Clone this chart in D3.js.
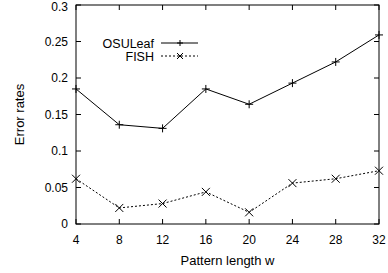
<!DOCTYPE html>
<html>
<head>
<meta charset="utf-8">
<script src="https://cdn.jsdelivr.net/npm/d3@7"></script>
<style>
  body { margin: 0; background: #fff; }
  text { font-family: "Liberation Sans", Arial, sans-serif; fill: #000; }
</style>
</head>
<body>
<div id="chart-area"></div>
<script>
// data
var patternLengths = [4, 8, 12, 16, 20, 24, 28, 32];
var osuLeaf = [0.185, 0.136, 0.131, 0.185, 0.164, 0.193, 0.222, 0.259];
var fish = [0.062, 0.022, 0.028, 0.044, 0.016, 0.056, 0.062, 0.073];
var yTicks = [0, 0.05, 0.1, 0.15, 0.2, 0.25, 0.3];
var seriesNames = ["OSULeaf", "FISH"];

var margin = { left: 76, right: 9, top: 5, bottom: 49 };
var width = 388 - margin.left - margin.right,
    height = 273 - margin.top - margin.bottom;

var svg = d3.select("#chart-area")
    .append("svg")
        .attr("width", 388)
        .attr("height", 273);

var g = svg.append("g")
    .attr("transform", "translate(" + margin.left + "," + margin.top + ")");

// Scales
var x = d3.scaleLinear()
    .domain([4, 32])
    .range([0, width]);
var y = d3.scaleLinear()
    .domain([0, 0.3])
    .range([height, 0]);

var tickLen = 5;

// Frame
g.append("rect")
    .attr("width", width)
    .attr("height", height)
    .attr("fill", "none")
    .attr("stroke", "#000")
    .attr("stroke-width", 1);

// x ticks (bottom + mirrored top)
patternLengths.forEach(function(d){
    g.append("line")
        .attr("x1", x(d)).attr("x2", x(d))
        .attr("y1", height).attr("y2", height - tickLen)
        .attr("stroke", "#000");
    g.append("line")
        .attr("x1", x(d)).attr("x2", x(d))
        .attr("y1", 0).attr("y2", tickLen)
        .attr("stroke", "#000");
    g.append("text")
        .attr("x", x(d))
        .attr("y", height + 20)
        .attr("text-anchor", "middle")
        .attr("font-size", "12px")
        .text(d);
});

// y ticks (left + mirrored right)
yTicks.forEach(function(d){
    g.append("line")
        .attr("x1", 0).attr("x2", tickLen)
        .attr("y1", y(d)).attr("y2", y(d))
        .attr("stroke", "#000");
    g.append("line")
        .attr("x1", width).attr("x2", width - tickLen)
        .attr("y1", y(d)).attr("y2", y(d))
        .attr("stroke", "#000");
    g.append("text")
        .attr("x", -8)
        .attr("y", Math.max(y(d) + 4, 6))   // keep top label inside the page
        .attr("text-anchor", "end")
        .attr("font-size", "12px")
        .text(d);
});

// Labels
g.append("text")
    .attr("x", width / 2)
    .attr("y", height + 41)
    .attr("text-anchor", "middle")
    .attr("font-size", "13px")
    .text("Pattern length w");
g.append("text")
    .attr("transform", "rotate(-90)")
    .attr("x", -height / 2)
    .attr("y", -52)
    .attr("text-anchor", "middle")
    .attr("font-size", "13px")
    .text("Error rates");

var line = d3.line()
    .x(function(d, i){ return x(patternLengths[i]); })
    .y(function(d){ return y(d); });

function plusPath(cx, cy, s) {
    return "M" + (cx - s) + "," + cy + "H" + (cx + s) +
        "M" + cx + "," + (cy - s) + "V" + (cy + s);
}
function crossPath(cx, cy, s) {
    return "M" + (cx - s) + "," + (cy - s) + "L" + (cx + s) + "," + (cy + s) +
        "M" + (cx - s) + "," + (cy + s) + "L" + (cx + s) + "," + (cy - s);
}

var series = [
    { name: seriesNames[0], values: osuLeaf, dash: null, marker: plusPath },
    { name: seriesNames[1], values: fish, dash: "2,2", marker: crossPath }
];

series.forEach(function(s, k){
    g.append("path")
        .datum(s.values)
        .attr("d", line)
        .attr("fill", "none")
        .attr("stroke", "#000")
        .attr("stroke-width", 1)
        .attr("stroke-dasharray", s.dash);

    g.selectAll(".m" + k)
        .data(s.values)
        .enter()
        .append("path")
        .attr("class", "m" + k)
        .attr("d", function(d, i){ return s.marker(x(patternLengths[i]), y(d), 4); })
        .attr("fill", "none")
        .attr("stroke", "#000")
        .attr("stroke-width", 1);

    // legend
    var ly = 38 + k * 13;
    g.append("text")
        .attr("x", 78)
        .attr("y", ly + 4.5)
        .attr("text-anchor", "end")
        .attr("font-size", "12.5px")
        .text(s.name);
    g.append("line")
        .attr("x1", 85).attr("x2", 122)
        .attr("y1", ly).attr("y2", ly)
        .attr("stroke", "#000")
        .attr("stroke-dasharray", s.dash);
    g.append("path")
        .attr("d", s.marker(104, ly, 3))
        .attr("fill", "none")
        .attr("stroke", "#000");
});
</script>
</body>
</html>
